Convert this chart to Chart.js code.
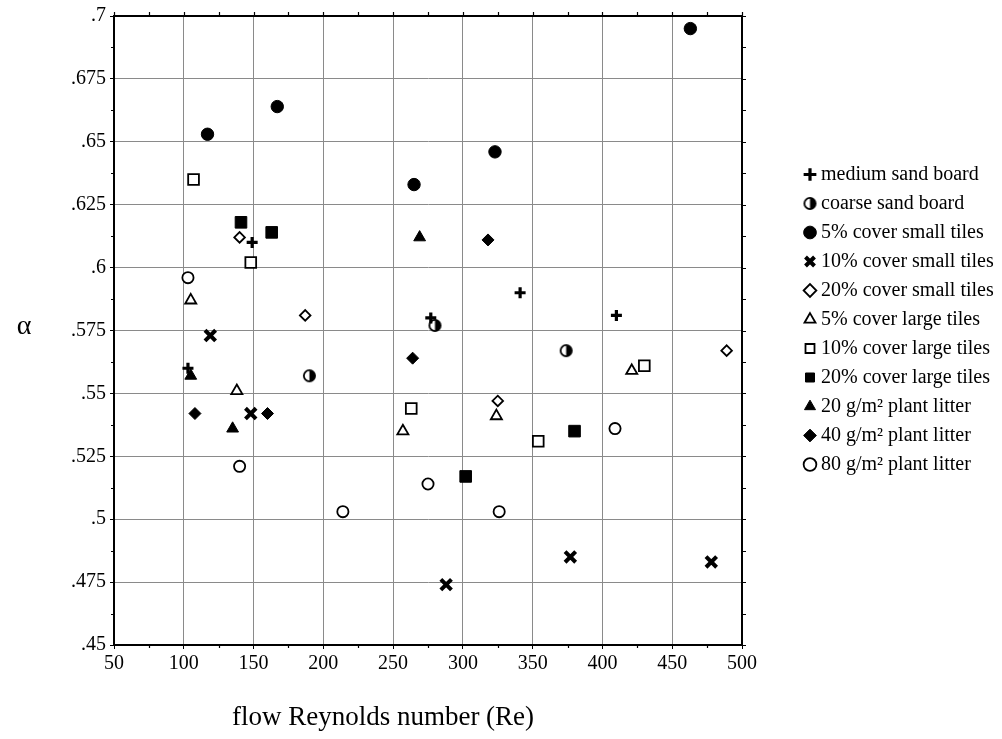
<!DOCTYPE html>
<html lang="en">
<head>
<meta charset="UTF-8">
<title>alpha vs flow Reynolds number</title>
<style>
  html, body { margin: 0; padding: 0; background: #fff; }
</style>
</head>
<body>
<canvas id="reChart" width="1002" height="739"></canvas>

<script src="https://cdn.jsdelivr.net/npm/chart.js"></script>
<script>
// points as [Re, alpha]
const mediumSandBoard = [[103, .560], [149, .610], [277, .580], [341, .590], [410, .581]];
const coarseSandBoard = [[190, .557], [280, .577], [374, .567]];
const smallTiles5 = [[117, .653], [167, .664], [265, .633], [323, .646], [463, .695]];
const smallTiles10 = [[119, .573], [148, .542], [288, .474], [377, .485], [478, .483]];
const smallTiles20 = [[140, .612], [187, .581], [325, .547], [489, .567]];
const largeTiles5 = [[105, .587], [138, .551], [257, .535], [324, .541], [421, .559]];
const largeTiles10 = [[107, .635], [148, .602], [263, .544], [354, .531], [430, .561]];
const largeTiles20 = [[141, .618], [163, .614], [302, .517], [380, .535]];
const litter20 = [[105, .557], [135, .536], [269, .612]];
const litter40 = [[108, .542], [160, .542], [264, .564], [318, .611]];
const litter80 = [[103, .596], [140, .521], [214, .503], [275, .514], [326, .503], [409, .536]];

const seriesNames = ['medium sand board', 'coarse sand board', '5% cover small tiles',
  '10% cover small tiles', '20% cover small tiles', '5% cover large tiles',
  '10% cover large tiles', '20% cover large tiles', '20 g/m\u00b2 plant litter',
  '40 g/m\u00b2 plant litter', '80 g/m\u00b2 plant litter'];

const xTicks = { min: 50, max: 500, step: 50 };
const yTicks = { min: 0.45, max: 0.7, step: 0.025 };
const xTitle = 'flow Reynolds number (Re)';
const yTitle = '\u03b1';

const serif = '"Liberation Serif", "Times New Roman", serif';

// circle with the right half filled
function halfDot() {
  const c = document.createElement('canvas');
  c.width = 15; c.height = 15;
  const g = c.getContext('2d');
  g.lineWidth = 1.8;
  g.strokeStyle = '#000';
  g.fillStyle = '#fff';
  g.beginPath(); g.arc(7.5, 7.5, 5.6, 0, Math.PI * 2); g.fill(); g.stroke();
  g.fillStyle = '#000';
  g.beginPath(); g.arc(7.5, 7.5, 5.6, -Math.PI / 2, Math.PI / 2); g.closePath(); g.fill();
  return c;
}

function toXY(list) {
  return list.map(p => ({ x: p[0], y: p[1] }));
}

function series(i, list, style, radius, filled, border) {
  return {
    label: seriesNames[i],
    data: toXY(list),
    pointStyle: style,
    pointRadius: radius,
    pointHoverRadius: radius,
    pointBorderWidth: border,
    pointBorderColor: '#000',
    pointBackgroundColor: filled ? '#000' : '#fff',
    borderColor: '#000',
    backgroundColor: filled ? '#000' : '#fff'
  };
}

const datasets = [
  series(0, mediumSandBoard, 'cross', 5.5, true, 3.2),
  series(1, coarseSandBoard, halfDot(), 6, false, 1.8),
  series(2, smallTiles5, 'circle', 6.2, true, 1),
  series(3, smallTiles10, 'crossRot', 7.5, true, 4),
  series(4, smallTiles20, 'rectRot', 5.3, false, 1.8),
  series(5, largeTiles5, 'triangle', 6.4, false, 1.8),
  series(6, largeTiles10, 'rect', 7.6, false, 1.8),
  series(7, largeTiles20, 'rect', 8.2, true, 1),
  series(8, litter20, 'triangle', 6.8, true, 1),
  series(9, litter40, 'rectRot', 6, true, 1),
  series(10, litter80, 'circle', 5.6, false, 1.8)
];

const frameAndTicks = {
  id: 'frameAndTicks',
  beforeInit(chart) {
    // keep the plot box where it is in the figure, legend gets the rest
    const fit = chart.legend.fit;
    chart.legend.fit = function () { fit.call(this); this.width = 260; };
  },
  afterLayout(chart) {
    chart.legend.left += 58;
    chart.legend.right += 58;
    chart.legend.top -= 55;
    chart.legend.bottom -= 55;
  },
  beforeDatasetsDraw(chart) {
    const { ctx, chartArea: a, scales: { x, y } } = chart;
    ctx.save();
    ctx.strokeStyle = '#000';
    ctx.lineWidth = 1.2;
    ctx.beginPath();
    for (let v = xTicks.min; v <= xTicks.max; v += 25) {
      const px = Math.round(x.getPixelForValue(v)) + 0.5;
      ctx.moveTo(px, a.top); ctx.lineTo(px, a.top - 4);
      if (v % 50) { ctx.moveTo(px, a.bottom); ctx.lineTo(px, a.bottom + 3); }
    }
    for (let i = 0; i <= 20; i++) {
      const py = Math.round(y.getPixelForValue(yTicks.min + i * 0.0125)) + 0.5;
      ctx.moveTo(a.right, py); ctx.lineTo(a.right + 4, py);
      if (i % 2) { ctx.moveTo(a.left, py); ctx.lineTo(a.left - 3, py); }
    }
    ctx.stroke();
    ctx.lineWidth = 2;
    ctx.strokeRect(a.left, a.top, a.right - a.left, a.bottom - a.top);
    ctx.restore();
  },
  afterDraw(chart) {
    const { ctx, chartArea: a } = chart;
    ctx.save();
    ctx.fillStyle = '#000';
    ctx.textAlign = 'center';
    ctx.textBaseline = 'middle';
    ctx.font = '28px ' + serif;
    ctx.fillText(yTitle, 24, (a.top + a.bottom) / 2 - 4);
    // axis title sits a bit left of the plot centre in the figure
    ctx.font = '27px ' + serif;
    ctx.fillText(xTitle, 383, 718);
    ctx.restore();
  }
};

new Chart(document.getElementById('reChart'), {
  type: 'scatter',
  data: { datasets: datasets },
  options: {
    responsive: false,
    animation: false,
    layout: { padding: { left: 14, top: 16, bottom: 6, right: 0 } },
    plugins: {
      tooltip: { enabled: false },
      legend: {
        position: 'right',
        align: 'center',
        labels: {
          usePointStyle: true,
          boxWidth: 2,
          boxHeight: 9,
          padding: 9,
          color: '#000',
          font: { family: serif, size: 20 }
        }
      }
    },
    scales: {
      x: {
        type: 'linear',
        min: xTicks.min,
        max: xTicks.max,
        afterFit(scale) { scale.height = 88; },
        ticks: { stepSize: xTicks.step, color: '#000', padding: 3, font: { family: serif, size: 20 } },
        grid: { color: '#8a8a8a', lineWidth: 1, tickLength: 4, tickColor: '#000' },
        border: { color: '#000', width: 2 }
      },
      y: {
        type: 'linear',
        min: yTicks.min,
        max: yTicks.max,
        afterFit(scale) { scale.width = 100; },
        ticks: {
          stepSize: yTicks.step,
          color: '#000',
          padding: 4,
          font: { family: serif, size: 20 },
          callback: v => String(parseFloat(v.toFixed(3))).replace(/^0/, '')
        },
        grid: { color: '#8a8a8a', lineWidth: 1, tickLength: 4, tickColor: '#000' },
        border: { color: '#000', width: 2 }
      }
    }
  },
  plugins: [frameAndTicks]
});
</script>
</body>
</html>
